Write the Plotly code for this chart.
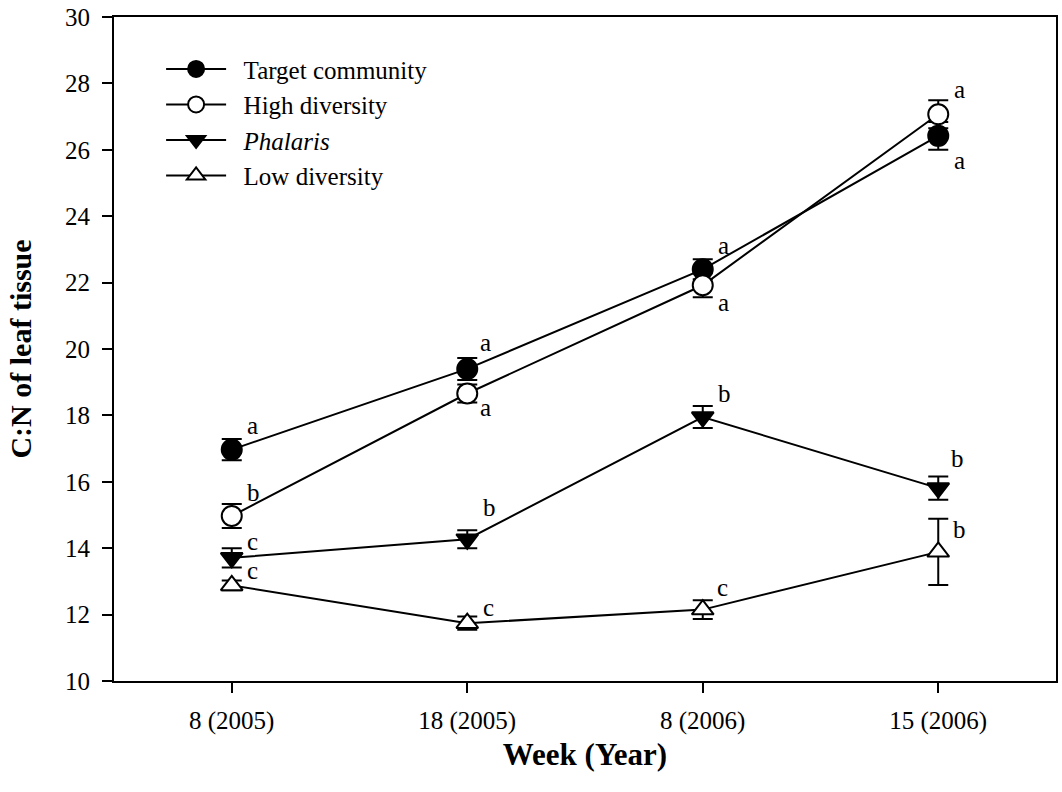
import plotly.graph_objects as go

categories = ["8 (2005)", "18 (2005)", "8 (2006)", "15 (2006)"]
y_ticks = [10, 12, 14, 16, 18, 20, 22, 24, 26, 28, 30]

target_mean = [16.97, 19.40, 22.40, 26.42]
target_err = [0.32, 0.33, 0.30, 0.42]
target_letters = ["a", "a", "a", "a"]

high_mean = [14.97, 18.66, 21.92, 27.07]
high_err = [0.36, 0.27, 0.36, 0.42]
high_letters = ["b", "a", "a", "a"]

phalaris_mean = [13.71, 14.27, 17.95, 15.81]
phalaris_err = [0.29, 0.27, 0.33, 0.35]
phalaris_letters = ["c", "b", "b", "b"]

low_mean = [12.88, 11.74, 12.15, 13.89]
low_err = [0.15, 0.20, 0.28, 1.00]
low_letters = ["c", "c", "c", "b"]

xpos = list(range(len(categories)))
FONT = "Liberation Serif, Times New Roman, serif"
PAD = "\u00a0\u00a0"

series = [
    ("Target community", target_mean, target_err, target_letters,
     dict(symbol="circle", size=20, color="black", line=dict(color="black", width=2)),
     [(21, -24), (18, -26), (21, -24), (21, 25)]),
    ("High diversity", high_mean, high_err, high_letters,
     dict(symbol="circle", size=20, color="white", line=dict(color="black", width=2)),
     [(22, -24), (18, 14), (21, 17), (21, -25)]),
    ("<i>Phalaris</i>", phalaris_mean, phalaris_err, phalaris_letters,
     dict(symbol="triangle-down", size=19, color="black", line=dict(color="black", width=2)),
     [(21, -16), (22, -32), (22, -24), (19, -30)]),
    ("Low diversity", low_mean, low_err, low_letters,
     dict(symbol="triangle-up", size=19, color="white", line=dict(color="black", width=2)),
     [(21, -15), (21, -16), (20, -22), (21, -22)]),
]

fig = go.Figure()
annotations = []
for name, mean, err, letters, marker, offs in series:
    fig.add_trace(go.Scatter(
        x=xpos, y=mean, name=PAD + name, mode="lines+markers",
        line=dict(color="black", width=2),
        marker=marker,
        error_y=dict(type="data", array=err, visible=True, color="black",
                     thickness=2, width=10),
    ))
    for xi, yi, lt, (dx, dy) in zip(xpos, mean, letters, offs):
        annotations.append(dict(
            x=xi, y=yi, xref="x", yref="y", text=lt, showarrow=False,
            xshift=dx, yshift=-dy, font=dict(family=FONT, size=25, color="black"),
        ))

fig.update_layout(
    width=1062, height=792,
    margin=dict(l=114, r=4, t=16, b=111),
    paper_bgcolor="white", plot_bgcolor="white",
    font=dict(family=FONT, size=25, color="black"),
    showlegend=True,
    legend=dict(
        x=0.05, y=0.956, xanchor="left", yanchor="top",
        bgcolor="rgba(0,0,0,0)", borderwidth=0,
        font=dict(family=FONT, size=25, color="black"),
        itemwidth=60, tracegroupgap=0,
    ),
    annotations=annotations,
    xaxis=dict(
        range=[-0.5, 3.5], tickmode="array", tickvals=xpos, ticktext=categories,
        showgrid=False, zeroline=False, showline=True, linecolor="black",
        linewidth=2, mirror=True, ticks="outside", ticklen=10, tickwidth=2,
        tickcolor="black", tickfont=dict(family=FONT, size=25),
        ticklabelstandoff=6,
        title=dict(text="<b>Week (Year)</b>", font=dict(family=FONT, size=31),
                   standoff=9),
    ),
    yaxis=dict(
        range=[10, 30], tickmode="array", tickvals=y_ticks,
        showgrid=False, zeroline=False, showline=True, linecolor="black",
        linewidth=2, mirror=True, ticks="outside", ticklen=10, tickwidth=2,
        tickcolor="black", tickfont=dict(family=FONT, size=25),
        ticklabelstandoff=7,
        title=dict(text="<b>C:N of leaf tissue</b>", font=dict(family=FONT, size=30),
                   standoff=25),
    ),
)

# remove the default 8px page margin so the figure fills the window exactly
fig.write_html(
    "out.html",
    config={"displayModeBar": False},
    post_script="document.body.style.margin='0';document.body.style.overflow='hidden';",
)
